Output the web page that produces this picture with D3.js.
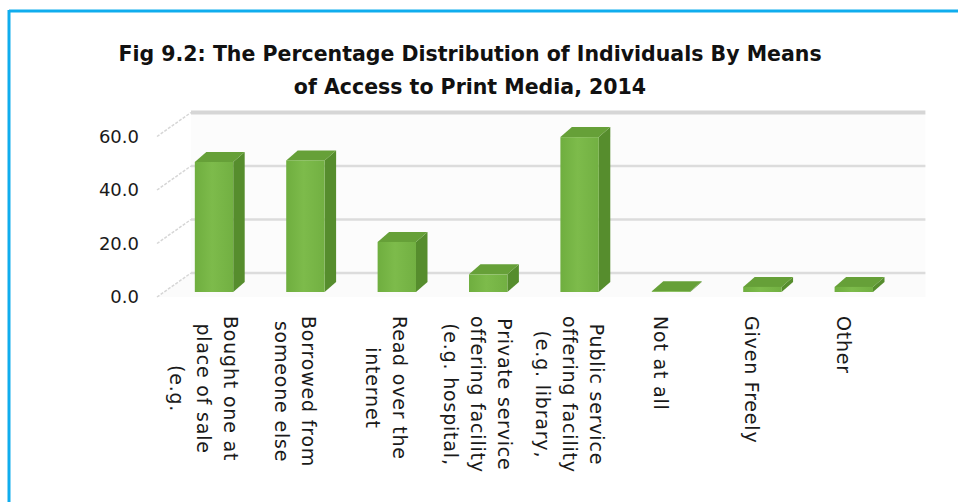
<!DOCTYPE html>
<html>
<head>
<meta charset="utf-8">
<script src="https://cdn.jsdelivr.net/npm/d3@7"></script>
<style>
  html, body { margin: 0; padding: 0; background: #fff; }
  svg { display: block; }
</style>
</head>
<body>
<svg id="chart" width="958" height="502"></svg>
<script>
// Means of access to print media, 2014 (percent of individuals)
const categories = [
  ["Bought one at", "place of sale", "(e.g."],
  ["Borrowed from", "someone else"],
  ["Read over the", "internet"],
  ["Private service", "offering facility", "(e.g. hospital,"],
  ["Public service", "offering facility", "(e.g. library,"],
  ["Not at all"],
  ["Given Freely"],
  ["Other"]
];
const values = [48.6, 49.2, 18.7, 6.6, 57.9, 0.3, 1.9, 1.9];
const yTicks = [0, 20, 40, 60];
const titleLines = [
  "Fig 9.2: The Percentage Distribution of Individuals By Means",
  "of Access to Print Media, 2014"
];

const FONT = "'DejaVu Sans', sans-serif";
const svg = d3.select("#chart");
const keys = categories.map(c => c.join(" "));

// frame rules (top and left)
svg.append("line").attr("x1", 9).attr("x2", 958).attr("y1", 11).attr("y2", 11)
  .attr("stroke", "#10adee").attr("stroke-width", 3);
svg.append("line").attr("x1", 9).attr("x2", 9).attr("y1", 10).attr("y2", 502)
  .attr("stroke", "#10adee").attr("stroke-width", 3);

// title
svg.append("text")
  .attr("x", 470).attr("y", 61)
  .attr("text-anchor", "middle")
  .attr("font-family", FONT)
  .attr("font-weight", 700)
  .attr("font-size", 20.5)
  .attr("fill", "#111")
  .selectAll("tspan").data(titleLines).join("tspan")
  .attr("x", 470).attr("dy", (d, i) => i === 0 ? 0 : 33)
  .text(d => d);

// scales on the front plane
const x = d3.scaleBand().domain(keys).range([154.4, 887.4])
  .paddingInner(0.58).paddingOuter(0.3);
const y = d3.scaleLinear().domain([0, 60]).range([297, 136.5]);

// depth offsets: back wall, and bar placement/thickness
const wall = { dx: 34, dy: -24 };
const barOff = { dx: 13, dy: -5 };
const barDepth = { dx: 11.5, dy: -10 };

const xFrontL = 157, xFrontR = x.range()[1] + 4;

// back wall
const wallG = svg.append("g");
wallG.append("rect")
  .attr("x", xFrontL + wall.dx).attr("y", y(60) + wall.dy)
  .attr("width", xFrontR - xFrontL).attr("height", y(0) - y(60))
  .attr("fill", "#fcfcfc");
// floor
wallG.append("path")
  .attr("d", `M${xFrontL},${y(0)} L${xFrontL + wall.dx},${y(0) + wall.dy} L${xFrontR + wall.dx},${y(0) + wall.dy} L${xFrontR + wall.dx},${y(0)} Z`)
  .attr("fill", "#fbfbfb");

// gridlines on back wall
wallG.selectAll("line.grid").data(yTicks).join("line")
  .attr("class", "grid")
  .attr("x1", xFrontL + wall.dx).attr("x2", xFrontR + wall.dx)
  .attr("y1", d => y(d) + wall.dy).attr("y2", d => y(d) + wall.dy)
  .attr("stroke", d => d === 60 ? "#d6d6d6" : "#dcdcdc")
  .attr("stroke-width", d => d === 60 ? 4 : 2.5);

// gridlines on side wall
wallG.selectAll("line.side").data(yTicks).join("line")
  .attr("class", "side")
  .attr("x1", xFrontL).attr("y1", d => y(d))
  .attr("x2", xFrontL + wall.dx).attr("y2", d => y(d) + wall.dy)
  .attr("stroke", "#d6d6d6").attr("stroke-width", 1.5)
  .attr("stroke-dasharray", "3,1.5");

// y axis tick labels
const yAxis = d3.axisLeft(y).tickValues(yTicks).tickFormat(d3.format(".1f")).tickSize(0).tickPadding(0);
const axG = svg.append("g").attr("transform", "translate(139,0)").call(yAxis);
axG.select(".domain").remove();
axG.selectAll("text")
  .attr("font-family", FONT)
  .attr("font-size", 18)
  .attr("fill", "#1a1a1a");

// 3D bars
const defs = svg.append("defs");
const grad = defs.append("linearGradient").attr("id", "front").attr("x1", 0).attr("x2", 1);
grad.append("stop").attr("offset", "0%").attr("stop-color", "#6fae3f");
grad.append("stop").attr("offset", "45%").attr("stop-color", "#7dbb4b");
grad.append("stop").attr("offset", "100%").attr("stop-color", "#72b042");

const bars = svg.append("g").selectAll("g").data(values).join("g");
bars.each(function (v, i) {
  const g = d3.select(this);
  const x0 = x(keys[i]) + barOff.dx, x1 = x0 + x.bandwidth();
  const yb = y(0) + barOff.dy, yt = y(v) + barOff.dy;
  const dx = barDepth.dx, dy = barDepth.dy;
  g.append("path")
    .attr("d", `M${x1},${yt} L${x1 + dx},${yt + dy} L${x1 + dx},${yb + dy} L${x1},${yb} Z`)
    .attr("fill", "#568d2d");
  g.append("path")
    .attr("d", `M${x0},${yt} L${x0 + dx},${yt + dy} L${x1 + dx},${yt + dy} L${x1},${yt} Z`)
    .attr("fill", "#66a038");
  g.append("rect")
    .attr("x", x0).attr("y", yt).attr("width", x1 - x0).attr("height", yb - yt)
    .attr("fill", "url(#front)");
});

// rotated, wrapped category labels
const labelTop = 316, lineGap = 27;
const labG = svg.append("g");
categories.forEach((lines, i) => {
  const cx = x(keys[i]) + x.bandwidth() / 2;
  const t = labG.append("text")
    .attr("font-family", FONT)
    .attr("font-size", 19)
    .attr("letter-spacing", 0.8)
    .attr("fill", "#1a1a1a")
    .attr("text-anchor", "middle");
  lines.forEach((ln, j) => {
    t.append("tspan").attr("x", 0).attr("y", j * lineGap).text(ln);
  });
  let maxLen = 0;
  t.selectAll("tspan").each(function () { maxLen = Math.max(maxLen, this.getComputedTextLength()); });
  // block of lines is centred on the category, longest line starts at labelTop
  const offset = (lines.length - 1) * lineGap / 2;
  t.attr("transform", `translate(${cx + 2},${labelTop + maxLen / 2}) rotate(90) translate(0,${-offset + 6})`);
});
</script>
</body>
</html>
